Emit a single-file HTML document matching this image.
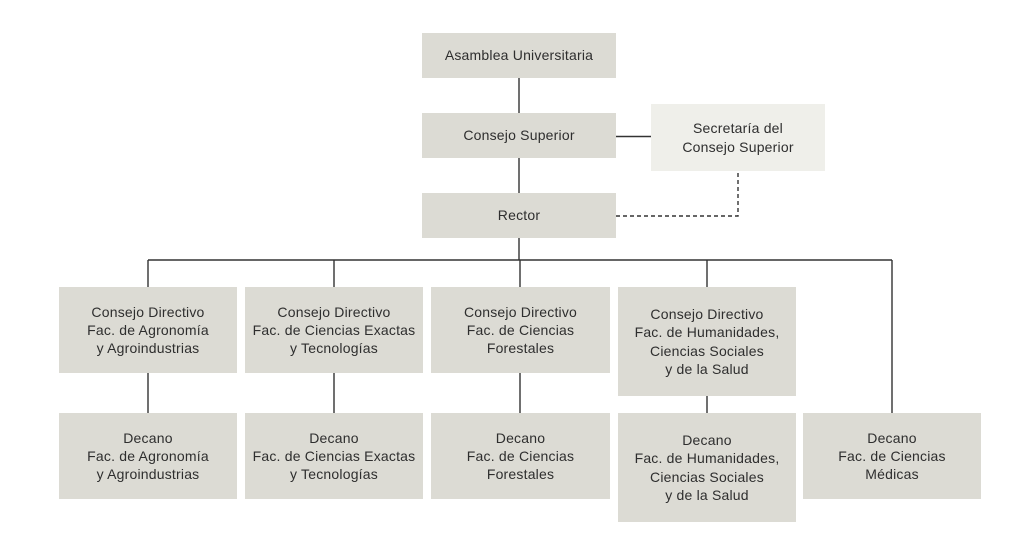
<!DOCTYPE html>
<html>
<head>
<meta charset="utf-8">
<style>
  html,body{margin:0;padding:0;background:#ffffff;}
  body{width:1024px;height:559px;position:relative;overflow:hidden;
       font-family:"Liberation Sans",Arial,sans-serif;}
  .b{position:absolute;background:#dcdbd4;color:#2e2e2e;display:flex;
     align-items:center;justify-content:center;text-align:center;
     font-size:14px;line-height:18.3px;letter-spacing:0.2px;box-sizing:border-box;}
  .l{background:#efefea;}
  svg{position:absolute;left:0;top:0;}
</style>
</head>
<body>
<svg width="1024" height="559" viewBox="0 0 1024 559">
  <g stroke="#333" stroke-width="1.4" fill="none">
    <line x1="519" y1="78" x2="519" y2="113"/>
    <line x1="519" y1="158" x2="519" y2="193"/>
    <line x1="519" y1="238" x2="519" y2="260"/>
    <line x1="616" y1="136.5" x2="651" y2="136.5"/>
    <line x1="148" y1="260" x2="892" y2="260"/>
    <line x1="148" y1="260" x2="148" y2="287"/>
    <line x1="334" y1="260" x2="334" y2="287"/>
    <line x1="520" y1="260" x2="520" y2="287"/>
    <line x1="707" y1="260" x2="707" y2="287"/>
    <line x1="892" y1="260" x2="892" y2="413"/>
    <line x1="148" y1="373" x2="148" y2="413"/>
    <line x1="334" y1="373" x2="334" y2="413"/>
    <line x1="520" y1="373" x2="520" y2="413"/>
    <line x1="707" y1="396" x2="707" y2="413"/>
    <polyline points="616,216 738,216 738,171" stroke-dasharray="4,3"/>
  </g>
</svg>

<div class="b" style="left:422px;top:33px;width:194px;height:45px;">Asamblea Universitaria</div>
<div class="b" style="left:422px;top:113px;width:194px;height:45px;">Consejo Superior</div>
<div class="b l" style="left:651px;top:104px;width:174px;height:67px;">Secretaría del<br>Consejo Superior</div>
<div class="b" style="left:422px;top:193px;width:194px;height:45px;">Rector</div>

<div class="b" style="left:59px;top:287px;width:178px;height:86px;">Consejo Directivo<br>Fac. de Agronomía<br>y Agroindustrias</div>
<div class="b" style="left:245px;top:287px;width:178px;height:86px;">Consejo Directivo<br>Fac. de Ciencias Exactas<br>y Tecnologías</div>
<div class="b" style="left:431px;top:287px;width:179px;height:86px;">Consejo Directivo<br>Fac. de Ciencias<br>Forestales</div>
<div class="b" style="left:618px;top:287px;width:178px;height:109px;">Consejo Directivo<br>Fac. de Humanidades,<br>Ciencias Sociales<br>y de la Salud</div>

<div class="b" style="left:59px;top:413px;width:178px;height:86px;">Decano<br>Fac. de Agronomía<br>y Agroindustrias</div>
<div class="b" style="left:245px;top:413px;width:178px;height:86px;">Decano<br>Fac. de Ciencias Exactas<br>y Tecnologías</div>
<div class="b" style="left:431px;top:413px;width:179px;height:86px;">Decano<br>Fac. de Ciencias<br>Forestales</div>
<div class="b" style="left:618px;top:413px;width:178px;height:109px;">Decano<br>Fac. de Humanidades,<br>Ciencias Sociales<br>y de la Salud</div>
<div class="b" style="left:803px;top:413px;width:178px;height:86px;">Decano<br>Fac. de Ciencias<br>Médicas</div>
</body>
</html>
